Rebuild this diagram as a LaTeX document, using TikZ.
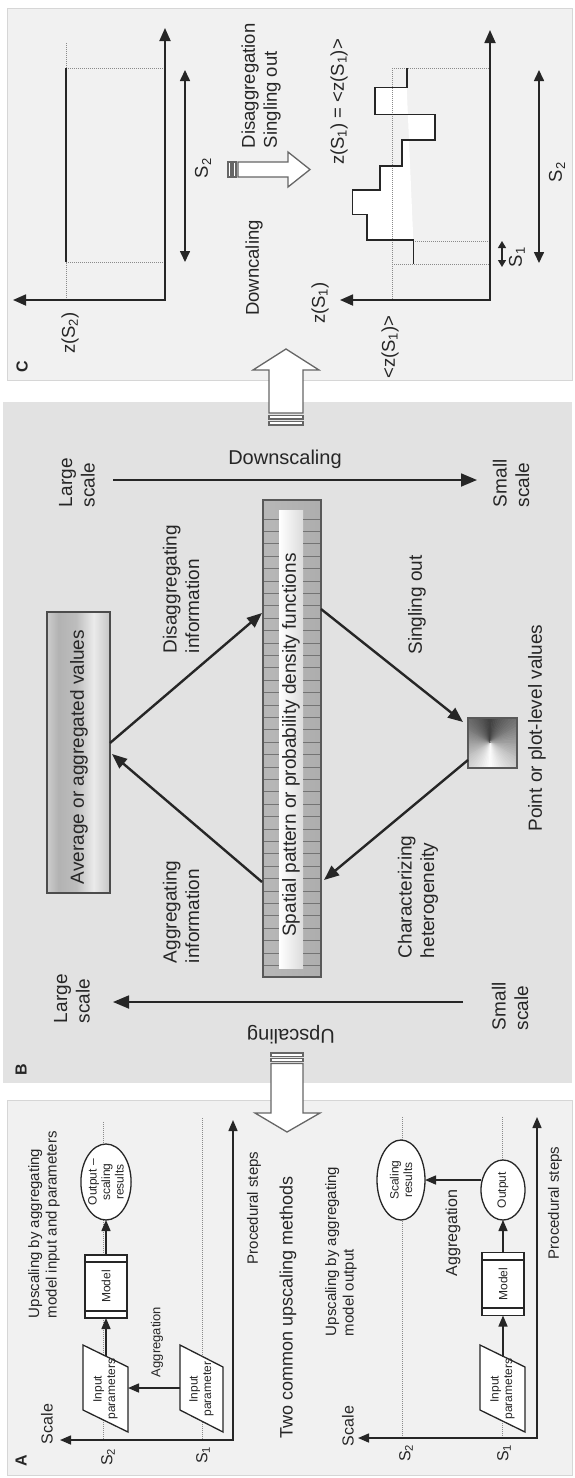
\documentclass[tikz,border=0pt]{standalone}
\usepackage{fontspec}
\setmainfont{Liberation Sans}
\usetikzlibrary{arrows.meta,shapes.geometric,calc}
\definecolor{panelL}{HTML}{F1F1F1}
\definecolor{panelB}{HTML}{E2E2E2}
\definecolor{edgeL}{HTML}{D6D6D6}
\definecolor{ink}{HTML}{262626}
\definecolor{dotc}{HTML}{8A8A8A}
\pgfdeclarehorizontalshading{metal}{100bp}{color(0bp)=(black!72); color(8bp)=(black!48); color(20bp)=(black!14); color(34bp)=(black!30); color(48bp)=(black!26); color(62bp)=(black!8); color(78bp)=(black!26); color(92bp)=(black!50); color(100bp)=(black!72)}
\begin{document}
\begin{tikzpicture}[x=1pt,y=-1pt,
  every node/.style={text=ink, inner sep=0pt, outer sep=0pt},
  axisline/.style={line width=1.8pt, draw=ink, line join=miter, {Triangle[length=13pt,width=11pt]}-{Triangle[length=13pt,width=11pt]}},
  axisA/.style={line width=1.5pt, draw=ink, line join=miter, {Triangle[length=11pt,width=9pt]}-{Triangle[length=11pt,width=9pt]}},
  dbl/.style={line width=1.6pt, draw=ink, {Triangle[length=11pt,width=10pt]}-{Triangle[length=11pt,width=10pt]}},
  dblsmall/.style={line width=1.4pt, draw=ink, {Triangle[length=7pt,width=8pt]}-{Triangle[length=7pt,width=8pt]}},
  guide/.style={line width=1pt, draw=dotc, densely dotted},
  flow/.style={line width=2.4pt, draw=ink, -{Triangle[length=15pt,width=12pt]}},
  flowA/.style={line width=1.5pt, draw=ink, -{Triangle[length=11pt,width=9pt]}},
  scalearrow/.style={line width=1.8pt, draw=ink, -{Triangle[length=16pt,width=13pt]}},
  blockarrow/.style={fill=white, draw=black!60, line width=1.3pt, line join=miter},
  lblB/.style={font=\fontsize{19}{22.5}\selectfont, rotate=90, align=left},
  lblC/.style={font=\fontsize{18.5}{22}\selectfont, rotate=90, align=left},
  lblA/.style={font=\fontsize{15}{17.5}\selectfont, rotate=90, align=left},
  lblS/.style={font=\fontsize{16}{18}\selectfont, rotate=90},
  boxtxt/.style={font=\fontsize{12}{13.5}\selectfont, rotate=90, align=center},
  panelletter/.style={font=\bfseries\fontsize{16}{19}\selectfont, rotate=90},
  shapebox/.style={draw=ink, line width=1.3pt, fill=white},
  modelbox/.style={shapebox, rotate=90, minimum width=63pt, minimum height=42pt, font=\fontsize{12}{14}\selectfont},
  ellbox/.style={shapebox, ellipse, rotate=90, align=center, font=\fontsize{12}{13.5}\selectfont},
  avgbox/.style={shade, shading=metal, draw=black!70, line width=1.2pt, minimum width=63pt, minimum height=281pt},
  spbox/.style={shade, left color=black!28, middle color=black!10, right color=black!32, minimum width=58pt, minimum height=477pt},
  ptbox/.style={draw=black!65, line width=1.2pt, minimum width=49pt, minimum height=50pt},
  tick/.style={draw=black!55, line width=0.9pt}
]
\useasboundingbox (0,0) rectangle (575,1478);
% panels
\path[fill=panelL, draw=edgeL, line width=1pt] (7,8) rectangle (572,380);
\path[fill=panelB] (3,402) rectangle (572,1083);
\path[fill=panelL, draw=edgeL, line width=1pt] (7,1100) rectangle (572,1475);

% block arrows
\draw[blockarrow] (269,413) -- (269,370) -- (253,370) -- (286,349) -- (319,370) -- (303,370) -- (303,413) -- cycle;
\draw[blockarrow] (269,415.5) rectangle (303,419);
\draw[blockarrow] (269,421.5) rectangle (303,425);
\draw[blockarrow] (271,1063.5) -- (271,1113) -- (255,1113) -- (287,1132) -- (320,1113) -- (303,1113) -- (303,1063.5) -- cycle;
\draw[blockarrow] (271,1053) rectangle (303,1056.5);
\draw[blockarrow] (271,1058.5) rectangle (303,1061.5);
\draw[blockarrow] (238,162) -- (288,162) -- (288,152) -- (310,169.5) -- (288,187) -- (288,177) -- (238,177) -- cycle;
\draw[blockarrow] (228,162) rectangle (231,177);
\draw[blockarrow] (233,162) rectangle (236,177);

% ---------------- panel C ----------------
\node[panelletter] (labC) at (22,367) {C};
\coordinate (c1o) at (165,300);
\draw[guide] (66,43) -- (66,300);
\draw[guide] (66,68) -- (165,68);
\draw[guide] (66,262) -- (165,262);
\draw[line width=1.6pt, ink] (66,68) -- (66,262);
\draw[axisline] (13,300) -- (c1o) -- (165,28);
\draw[dbl] (185,70) -- (185,262);
\node[lblC] (zS2) at (70,333) {z(S\textsubscript{2})};
\node[lblC] (s2a) at (203,168) {S\textsubscript{2}};
\node[lblC, anchor=west] (disagg) at (261,148) {Disaggregation\\Singling out};
\node[lblC] (downc) at (254,268) {Downcaling};

\coordinate (c2o) at (490,300);
\fill[white] (406.7,87.3) -- (375,87.3) -- (375,114.3) -- (435,114.3) -- (435,140) -- (401.7,140) -- (401.7,165.7) -- (380,165.7) -- (380,190) -- (352.3,190) -- (352.3,214.3) -- (366.7,214.3) -- (366.7,240) -- (413.3,240) -- cycle;
\draw[guide] (392,68) -- (392,300);
\draw[guide] (392,68) -- (490,68);
\draw[guide] (413,241) -- (490,241);
\draw[guide] (392,264) -- (490,264);
\draw[line width=1.6pt, ink] (406.7,68.3) -- (406.7,87.3) -- (375,87.3) -- (375,114.3) -- (435,114.3) -- (435,140) -- (401.7,140) -- (401.7,165.7) -- (380,165.7) -- (380,190) -- (352.3,190) -- (352.3,214.3) -- (366.7,214.3) -- (366.7,240) -- (413.3,240) -- (413.3,264.3);
\draw[axisline] (340,300) -- (c2o) -- (490,30);
\draw[dblsmall] (502,241) -- (502,267);
\draw[dbl] (539,70) -- (539,263);
\node[lblC] (zS1eq) at (339,102) {z(S\textsubscript{1}) = <z(S\textsubscript{1})>};
\node[lblC] (zS1) at (320,303) {z(S\textsubscript{1})};
\node[lblC] (mzS1) at (390,347) {<z(S\textsubscript{1})>};
\node[lblC] (s1b) at (517,257) {S\textsubscript{1}};
\node[lblC] (s2b) at (557,172) {S\textsubscript{2}};

% ---------------- panel B ----------------
\node[panelletter] (labB) at (21,1070) {B};
\coordinate (dsL) at (113,480);
\coordinate (dsS) at (477,480);
\draw[scalearrow] (dsL) -- (dsS);
\coordinate (usS) at (463,1002);
\coordinate (usL) at (113,1002);
\draw[scalearrow] (usS) -- (usL);
\node[lblB, anchor=west] (ls1) at (77,507) {Large\\scale};
\node[lblB, anchor=west] (ss1) at (511,507) {Small\\scale};
\node[lblB, anchor=west] (ls2) at (72,1023) {Large\\scale};
\node[lblB, anchor=west] (ss2) at (510,1030) {Small\\scale};
\node[font=\fontsize{20}{24}\selectfont] (dsc) at (285,459) {Downscaling};
\node[font=\fontsize{20}{24}\selectfont, rotate=180] (usc) at (291,1035) {Upscaling};

% average bar
\node[avgbox] (avgbar) at (78.5,752.5) {};
\node[lblB] (avgtxt) at (79,757) {Average or aggregated values};

% spatial bar
\node[spbox] (spbar) at (292,738.5) {};
\fill[left color=white, middle color=white, right color=black!14] (279,510) rectangle (303,968);
\foreach \i in {0,...,36}{
  \pgfmathsetmacro\yy{519+12.4*\i}
  \draw[tick] (263,\yy) -- (279,\yy) (303,\yy) -- (321,\yy);
}
\draw[black!65, line width=1.2pt] (spbar.south west) rectangle (spbar.north east);
\node[lblB, align=center] (sptxt) at (291,745) {Spatial pattern or probability density functions};

% point square with conic shading
\begin{scope}
\clip (468,718) rectangle (517,768);
\foreach \a in {0,5,...,355}{
  \pgfmathsetmacro\dd{min(abs(\a+2.5-270),360-abs(\a+2.5-270))}
  \pgfmathsetmacro\pp{int(25+75*\dd/180)}
  \filldraw[fill=white!\pp!black, draw=white!\pp!black, line width=0.5pt] (490,742) -- ($(490,742)+(\a:60)$) -- ($(490,742)+(\a+5:60)$) -- cycle;
}
\end{scope}
\node[ptbox] (pt) at (492.5,743) {};
\node[lblB] (pttxt) at (537,728) {Point or plot-level values};

% flows
\draw[flow] ($(avgbar.east)+(0,-9.5)$) -- ($(spbar.west)+(-1,-125.5)$);
\draw[flow] ($(spbar.west)+(-1,143.5)$) -- ($(avgbar.east)+(2,1.5)$);
\draw[flow] ($(spbar.east)+(0,-129.5)$) -- ($(pt.west)+(-5,-21)$);
\draw[flow] ($(pt.west)+(0,17)$) -- ($(spbar.east)+(3,141.5)$);
\node[lblB, anchor=west] (disinfo) at (181,653) {Disaggregating\\information};
\node[lblB, anchor=west] (agginfo) at (181,963) {Aggregating\\information};
\node[lblB] (single) at (417,605) {Singling out};
\node[lblB, anchor=west] (charh) at (418,958) {Characterizing\\heterogeneity};

% ---------------- panel A ----------------
\node[panelletter] (labA) at (21,1461) {A};
% upper graph
\draw[guide] (103,1122) -- (103,1440);
\draw[guide] (202,1118) -- (202,1440);
\draw[axisA] (60,1440) -- (233,1440) -- (233,1120);
\draw[shapebox] (83,1345) -- (128,1367) -- (128,1432) -- (83,1410) -- cycle;
\node[boxtxt] (ip1) at (105.5,1389) {Input\\parameters};
\draw[shapebox] (180,1345) -- (223,1367) -- (223,1432) -- (180,1410) -- cycle;
\node[boxtxt] (ip2) at (201.5,1389) {Input\\parameter};
\node[modelbox] (m1) at (106,1286.5) {Model};
\draw[ink, line width=1.1pt] (85,1262) -- (127,1262) (85,1311) -- (127,1311);
\node[ellbox, minimum width=76pt, minimum height=48pt] (o1) at (106,1182) {Output –\\scaling\\results};
\coordinate (p1t) at (106,1356);
\draw[flowA] (p1t) -- (m1);
\draw[flowA] (m1) -- (o1);
\coordinate (p2l) at (180,1388);
\coordinate (p1r) at (128,1388);
\draw[flowA] (p2l) -- (p1r);
\node[lblS] (sc1) at (47,1424) {Scale};
\node[lblS] (s2l1) at (108,1457) {S\textsubscript{2}};
\node[lblS] (s1l1) at (203,1455) {S\textsubscript{1}};
\node[lblA] (ps1) at (254,1208) {Procedural steps};
\node[boxtxt, font=\fontsize{13}{15}\selectfont] (ag1) at (157,1342) {Aggregation};
\node[lblA, anchor=west] (t1) at (44,1318) {Upscaling by aggregating\\model input and parameters};
\node[font=\fontsize{18}{21}\selectfont, rotate=90] (t3) at (288,1307) {Two common upscaling methods};

% lower graph
\draw[guide] (402,1117) -- (402,1438);
\draw[guide] (502,1117) -- (502,1438);
\draw[axisA] (358,1438) -- (537,1438) -- (537,1117);
\draw[shapebox] (480,1345) -- (525,1367) -- (525,1432) -- (480,1410) -- cycle;
\node[boxtxt] (ip3) at (502.5,1389) {Input\\parameters};
\node[modelbox] (m2) at (503,1284) {Model};
\draw[ink, line width=1.1pt] (482,1260) -- (524,1260) (482,1308) -- (524,1308);
\node[ellbox, minimum width=60pt, minimum height=44pt] (o2) at (503,1190) {Output};
\node[ellbox, minimum width=80pt, minimum height=48pt] (sr) at (401,1180) {Scaling\\results};
\coordinate (p3t) at (503,1357);
\draw[flowA] (p3t) -- (m2);
\draw[flowA] (m2) -- (o2);
\draw[flowA] (sr.south -| o2.north) -- (sr.south);
\node[lblS] (sc2) at (348,1426) {Scale};
\node[lblS] (s2l2) at (406,1453) {S\textsubscript{2}};
\node[lblS] (s1l2) at (504,1453) {S\textsubscript{1}};
\node[lblA] (ps2) at (555,1203) {Procedural steps};
\node[lblA, font=\fontsize{16}{19}\selectfont] (ag2) at (453,1233) {Aggregation};
\node[lblA, anchor=west] (t2) at (341,1336) {Upscaling by aggregating\\model output};
\end{tikzpicture}
\end{document}
